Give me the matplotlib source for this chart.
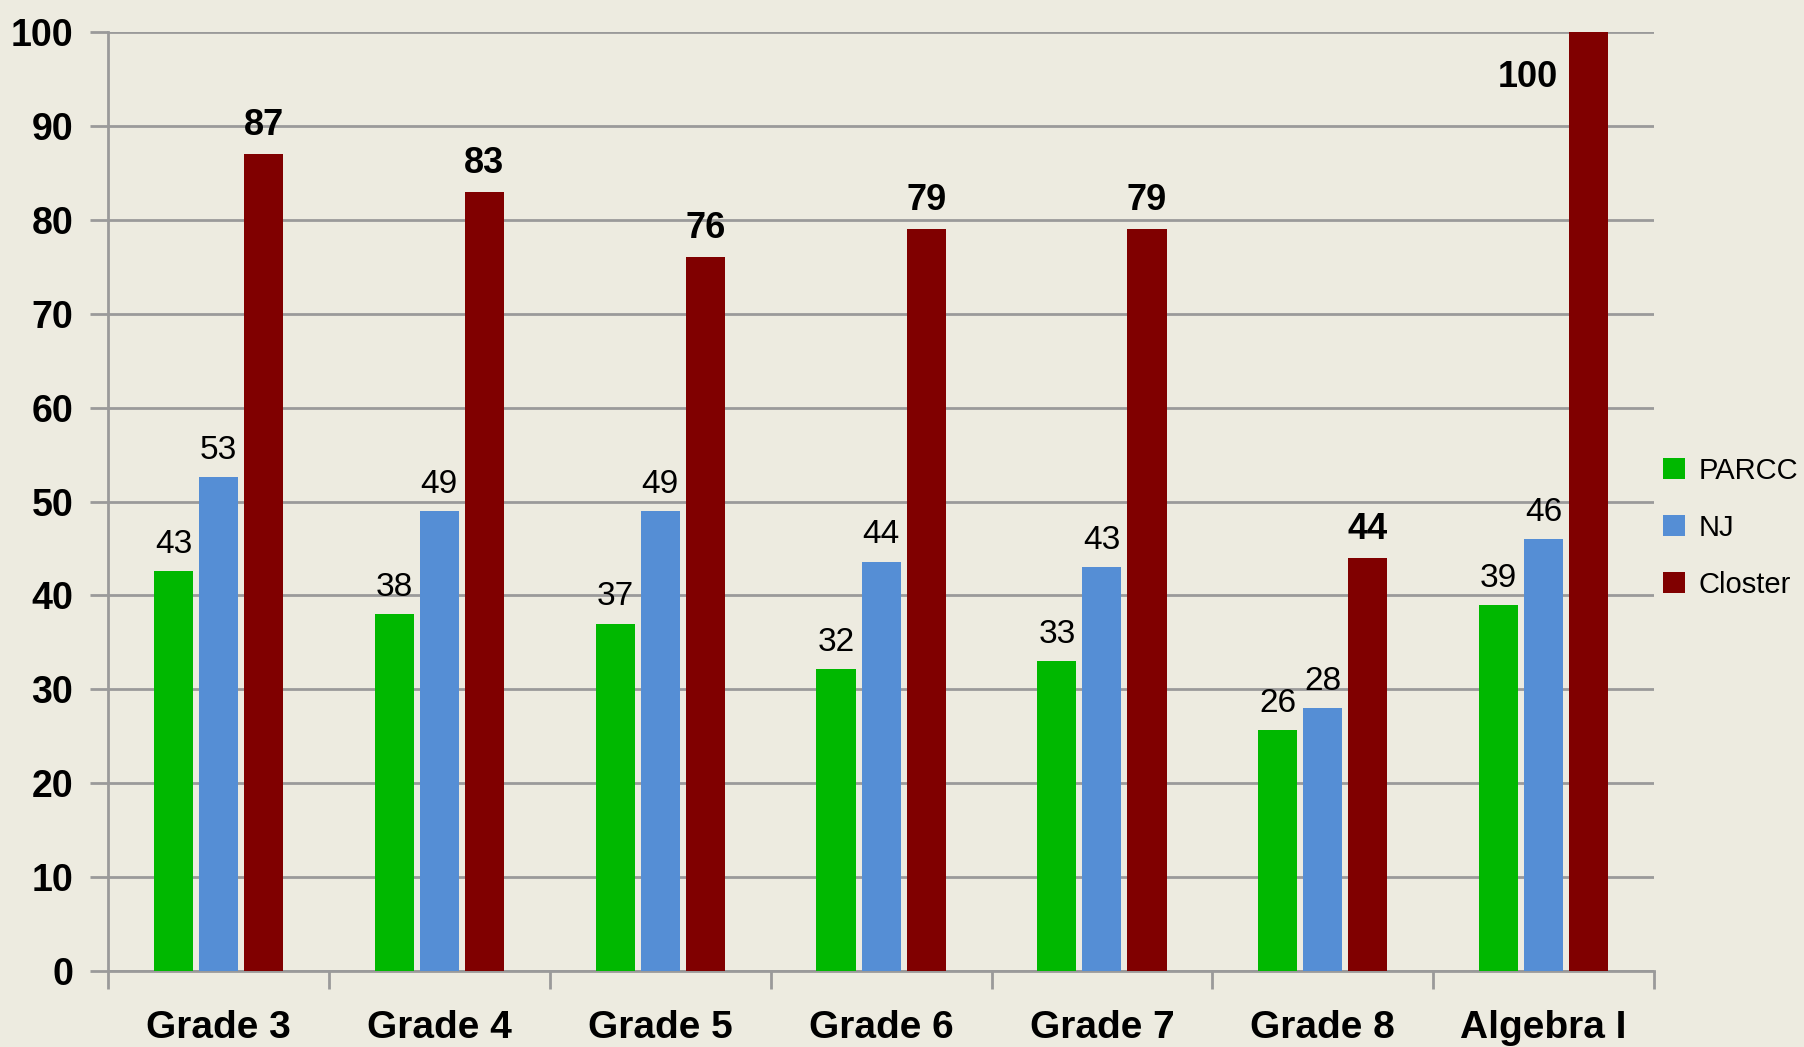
import numpy as np
import matplotlib.pyplot as plt
from matplotlib.patches import Patch

plt.rcParams['font.family'] = ['Liberation Sans', 'DejaVu Sans']

categories = ['Grade 3', 'Grade 4', 'Grade 5', 'Grade 6', 'Grade 7', 'Grade 8', 'Algebra I']
parcc = [42.6, 38, 37, 32.2, 33, 25.7, 39]
nj = [52.6, 49, 49, 43.6, 43, 28, 46]
closter = [87, 83, 76, 79, 79, 44, 100]
series_names = ['PARCC', 'NJ', 'Closter']
colors = ['#00B800', '#558ED5', '#800000']
y_ticks = [0, 10, 20, 30, 40, 50, 60, 70, 80, 90, 100]

bg = '#EDEBE0'
fig = plt.figure(figsize=(18.04, 10.47), dpi=100, facecolor=bg)
ax = fig.add_axes([0.0599, 0.0726, 0.857, 0.8968])
ax.set_facecolor(bg)

x = np.arange(len(categories))
width = 0.177
step = 0.204
for i, (vals, c) in enumerate(zip([parcc, nj, closter], colors)):
    pos = x + (i - 1) * step
    ax.bar(pos, vals, width, color=c, zorder=3)
    for p, v in zip(pos, vals):
        bold = (i == 2)
        if v >= 99:
            # no room above the top, so the label sits left of the bar
            ax.annotate(f"{v:.0f}", (p, v), xytext=(-22, -20), textcoords='offset points',
                        ha='right', va='top', fontsize=26, fontweight='bold')
        else:
            ax.annotate(f"{v:.0f}", (p, v), xytext=(0, 8), textcoords='offset points',
                        ha='center', va='bottom', fontsize=26 if bold else 24,
                        fontweight='bold' if bold else 'normal')

ax.set_xlim(-0.5, len(categories) - 0.5)
ax.set_ylim(0, 100)
ax.set_yticks(y_ticks)
ax.set_yticklabels([str(t) for t in y_ticks], fontsize=27, fontweight='bold')
ax.yaxis.grid(True, color='#9A9A9A', linewidth=2, zorder=0)
ax.tick_params(axis='y', length=13, width=2, color='#9A9A9A', pad=12)

ax.set_xticks(x)
ax.set_xticklabels(categories, fontsize=28, fontweight='bold')
ax.set_xticks(np.arange(len(categories) + 1) - 0.5, minor=True)
ax.tick_params(axis='x', which='major', length=0, pad=28)
ax.tick_params(axis='x', which='minor', length=13, width=2, color='#9A9A9A')

for s in ['top', 'right']:
    ax.spines[s].set_visible(False)
for s in ['left', 'bottom']:
    ax.spines[s].set_color('#9A9A9A')
    ax.spines[s].set_linewidth(2)

handles = [Patch(facecolor=c, label=n) for c, n in zip(colors, series_names)]
fig.legend(handles=handles, loc='center left', bbox_to_anchor=(0.922, 0.496),
           frameon=False, fontsize=21, handlelength=0.75, handleheight=0.75,
           handletextpad=0.45, labelspacing=1.0, borderpad=0, borderaxespad=0)

fig.savefig('out.png', dpi=100, facecolor=bg)
